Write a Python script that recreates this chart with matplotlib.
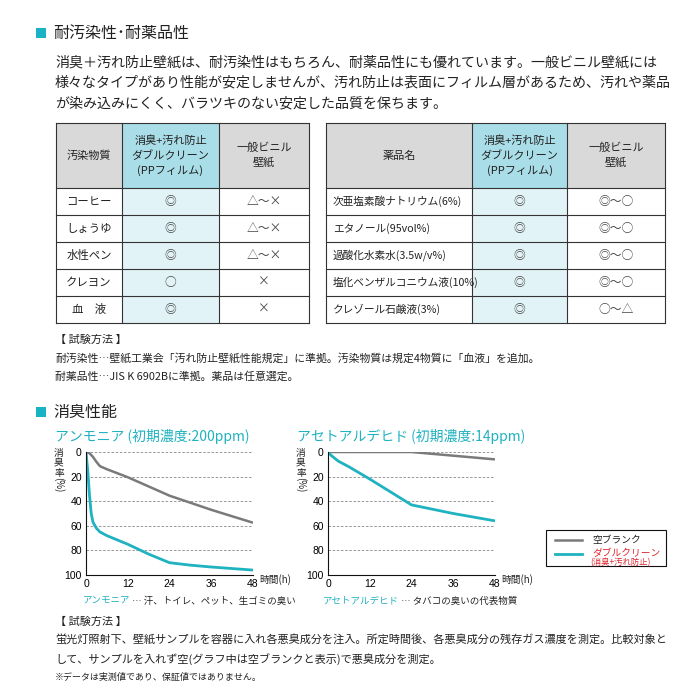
import matplotlib.pyplot as plt
import matplotlib.patches as patches
import numpy as np

plt.rcParams['font.family'] = ['Noto Sans CJK JP', 'DejaVu Sans']

TEAL = '#1fb2c0'
GRAY = '#7a7a7a'
RED = '#e0262e'

# --- table data ---
stain_header = ['汚染物質', '消臭+汚れ防止\nダブルクリーン\n(PPフィルム)', '一般ビニル\n壁紙']
stain_items = ['コーヒー', 'しょうゆ', '水性ペン', 'クレヨン', '血　液']
stain_double = ['◎', '◎', '◎', '○', '◎']
stain_vinyl = ['△～×', '△～×', '△～×', '×', '×']

chem_header = ['薬品名', '消臭+汚れ防止\nダブルクリーン\n(PPフィルム)', '一般ビニル\n壁紙']
chem_items = ['次亜塩素酸ナトリウム(6%)', 'エタノール(95vol%)', '過酸化水素水(3.5w/v%)',
              '塩化ベンザルコニウム液(10%)', 'クレゾール石鹸液(3%)']
chem_double = ['◎', '◎', '◎', '◎', '◎']
chem_vinyl = ['◎～○', '◎～○', '◎～○', '◎～○', '○～△']

# --- deodorization data (rate %) ---
ammonia_hours = [0, 1, 2, 3, 4, 6, 12, 24, 36, 48]
ammonia_blank = [0, 1, 4, 8, 11.5, 14, 20.5, 35.5, 47, 57.5]
ammonia_double_hours = [0, 0.5, 1, 1.5, 2, 3, 4, 6, 12, 18, 24, 30, 36, 48]
ammonia_double = [0, 15, 35, 50, 57, 62, 65, 68, 75, 83, 90, 92, 93.5, 96]

acet_hours = [0, 12, 24, 36, 48]
acet_blank = [0, 0, 0, 3, 6]
acet_double_hours = [0, 1, 3, 6, 12, 18, 24, 30, 36, 42, 48]
acet_double = [0, 3, 7.5, 12, 22, 32.5, 43, 46.5, 50, 53, 56]

xticks = [0, 12, 24, 36, 48]
yticks = [0, 20, 40, 60, 80, 100]

fig = plt.figure(figsize=(7, 7), dpi=100)
ax0 = fig.add_axes([0, 0, 1, 1])
ax0.set_xlim(0, 700)
ax0.set_ylim(700, 0)
ax0.axis('off')


def section_title(y, text):
    ax0.add_patch(patches.Rectangle((36, y - 5), 10, 10, color='#1ab3c6', lw=0))
    ax0.text(53, y, text, fontsize=11.5, va='center', ha='left', color='#222222')


section_title(33, '耐汚染性･耐薬品性')
body = ['消臭＋汚れ防止壁紙は、耐汚染性はもちろん、耐薬品性にも優れています。一般ビニル壁紙には',
        '様々なタイプがあり性能が安定しませんが、汚れ防止は表面にフィルム層があるため、汚れや薬品',
        'が染み込みにくく、バラツキのない安定した品質を保ちます。']
for i, line in enumerate(body):
    ax0.text(55, 62 + i * 20.5, line, fontsize=10.1, va='center', ha='left', color='#222222')


def draw_table(cols, top, hdr_h, row_h, header, items, double, vinyl, left_align):
    nrows = len(items)
    bottom = top + hdr_h + row_h * nrows
    ax0.add_patch(patches.Rectangle((cols[0], top), cols[3] - cols[0], hdr_h, color='#d9d9d9', lw=0))
    ax0.add_patch(patches.Rectangle((cols[1], top), cols[2] - cols[1], hdr_h, color='#a9dde7', lw=0))
    ax0.add_patch(patches.Rectangle((cols[1], top + hdr_h), cols[2] - cols[1], row_h * nrows,
                                    color='#e2f3f7', lw=0))
    for x in cols:
        ax0.plot([x, x], [top, bottom], color='#333333', lw=0.8)
    for j in range(nrows + 2):
        y = top if j == 0 else top + hdr_h + row_h * (j - 1)
        ax0.plot([cols[0], cols[3]], [y, y], color='#333333', lw=0.8)
    for c in range(3):
        ax0.text((cols[c] + cols[c + 1]) / 2, top + hdr_h / 2, header[c], fontsize=8,
                 ha='center', va='center', linespacing=1.5, color='#222222')
    for r in range(nrows):
        yc = top + hdr_h + row_h * (r + 0.5)
        if left_align:
            ax0.text(cols[0] + 7, yc, items[r], fontsize=7.7, ha='left', va='center', color='#222222')
        else:
            ax0.text((cols[0] + cols[1]) / 2, yc, items[r], fontsize=8.2, ha='center', va='center',
                     color='#222222')
        ax0.text((cols[1] + cols[2]) / 2, yc, double[r], fontsize=8.5, ha='center', va='center',
                 color='#444444')
        ax0.text((cols[2] + cols[3]) / 2, yc, vinyl[r], fontsize=8.5, ha='center', va='center',
                 color='#444444')


draw_table([56, 122, 219, 309], 123, 65, 27, stain_header, stain_items, stain_double, stain_vinyl, False)
draw_table([326, 472, 567, 665], 123, 65, 27, chem_header, chem_items, chem_double, chem_vinyl, True)

ax0.text(55, 340, '【 試験方法 】', fontsize=8.0, va='center', ha='left', color='#222222')
ax0.text(55, 358, '耐汚染性…壁紙工業会「汚れ防止壁紙性能規定」に準拠。汚染物質は規定4物質に「血液」を追加。',
         fontsize=7.8, va='center', ha='left', color='#222222')
ax0.text(55, 376, '耐薬品性…JIS K 6902Bに準拠。薬品は任意選定。', fontsize=7.8, va='center', ha='left',
         color='#222222')

section_title(412, '消臭性能')
ax0.text(55, 436, 'アンモニア (初期濃度:200ppm)', fontsize=10, color=TEAL, va='center', ha='left')
ax0.text(297, 436, 'アセトアルデヒド (初期濃度:14ppm)', fontsize=10, color=TEAL, va='center', ha='left')


def chart(left_px, right_px, x_blank, y_blank, x_dbl, y_dbl):
    ax = fig.add_axes([left_px / 700, (700 - 575) / 700, (right_px - left_px) / 700, 123 / 700])
    ax.plot(x_blank, y_blank, color=GRAY, lw=1.8, solid_capstyle='butt')
    ax.plot(x_dbl, y_dbl, color=TEAL, lw=2.0, solid_capstyle='butt')
    ax.set_xlim(0, 48)
    ax.set_ylim(100, 0)
    ax.set_xticks(xticks)
    ax.set_yticks(yticks)
    ax.tick_params(length=0, labelsize=7.5, pad=3)
    for lab in ax.get_xticklabels() + ax.get_yticklabels():
        lab.set_family(['Liberation Sans', 'DejaVu Sans'])
    ax.yaxis.grid(True, linestyle=(0, (3, 2)), color='#888888', lw=0.6)
    ax.spines['top'].set_visible(False)
    ax.spines['right'].set_visible(False)
    ax.spines['left'].set_color('#111111')
    ax.spines['bottom'].set_color('#111111')
    ax.set_facecolor('none')
    ax.set_axisbelow(True)
    ax0.text(right_px + 6, 580, '時間(h)', fontsize=7, ha='left', va='center', color='#222222')
    ax0.text(left_px - 27, 448, '消\n臭\n率', fontsize=7, ha='center', va='top', linespacing=1.0,
             color='#222222')
    ax0.text(left_px - 27, 485, '(%)', fontsize=7, ha='center', va='center', rotation=-90,
             color='#222222')
    return ax


ax1 = chart(86, 253, ammonia_hours, ammonia_blank, ammonia_double_hours, ammonia_double)
ax2 = chart(328, 495, acet_hours, acet_blank, acet_double_hours, acet_double)

# legend
ax0.add_patch(patches.Rectangle((546, 530), 120, 36, fill=False, ec='#111111', lw=0.8))
ax0.plot([555, 582], [540, 540], color=GRAY, lw=1.8)
ax0.plot([555, 582], [554, 554], color=TEAL, lw=2.0)
ax0.text(592, 540, '空ブランク', fontsize=7, va='center', ha='left', color='#222222')
ax0.text(592, 553, 'ダブルクリーン', fontsize=7, va='center', ha='left', color=RED)
ax0.text(590, 562.5, '(消臭+汚れ防止)', fontsize=6, va='center', ha='left', color=RED)

# gas notes
t1 = ax0.text(83, 601, 'アンモニア', fontsize=6.8, color=TEAL, va='center', ha='left')
ax0.annotate(' … 汗、トイレ、ペット、生ゴミの臭い', xy=(1, 0.5), xycoords=t1, fontsize=6.8,
             color='#222222', va='center', ha='left')
t2 = ax0.text(323, 601, 'アセトアルデヒド', fontsize=6.8, color=TEAL, va='center', ha='left')
ax0.annotate(' … タバコの臭いの代表物質', xy=(1, 0.5), xycoords=t2, fontsize=6.8,
             color='#222222', va='center', ha='left')

ax0.text(55, 622, '【 試験方法 】', fontsize=8.0, va='center', ha='left', color='#222222')
ax0.text(55, 640, '蛍光灯照射下、壁紙サンプルを容器に入れ各悪臭成分を注入。所定時間後、各悪臭成分の残存ガス濃度を測定。比較対象と',
         fontsize=8.0, va='center', ha='left', color='#222222')
ax0.text(55, 659, 'して、サンプルを入れず空(グラフ中は空ブランクと表示)で悪臭成分を測定。', fontsize=8.0,
         va='center', ha='left', color='#222222')
ax0.text(55, 677, '※データは実測値であり、保証値ではありません。', fontsize=6.5, va='center', ha='left',
         color='#222222')

plt.savefig('out.png', dpi=100)
